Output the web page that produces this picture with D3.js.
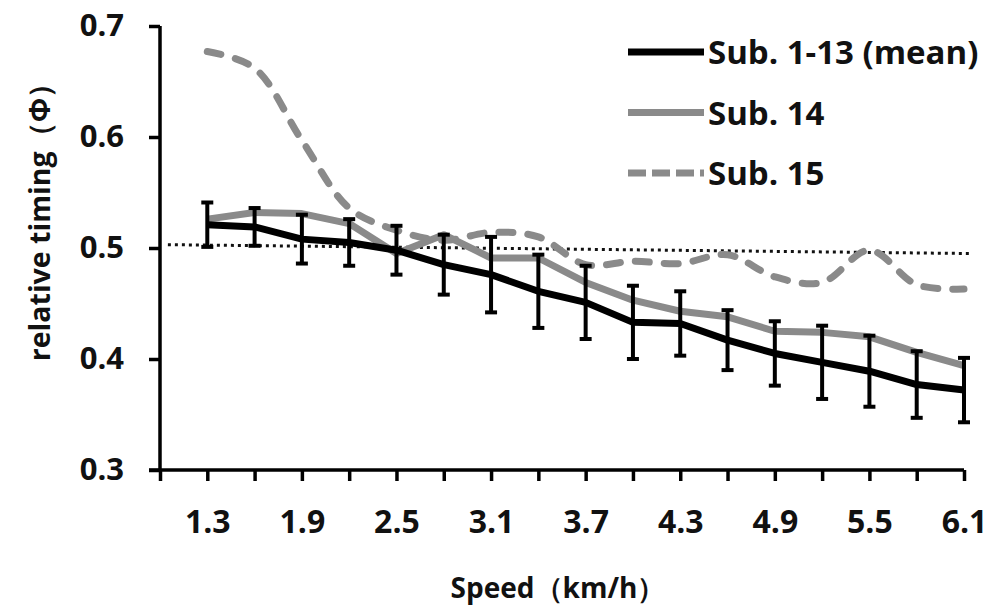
<!DOCTYPE html>
<html>
<head>
<meta charset="utf-8">
<script src="https://cdn.jsdelivr.net/npm/d3@7"></script>
<style>
  body { margin: 0; background: #fff; }
  svg { display: block; }
  text { font-family: "Open Sans", Lato, sans-serif; font-weight: bold; fill: #111; }
</style>
</head>
<body>
<div id="viz"></div>
<script>
"use strict";

// speeds (km/h)
var speeds = [1.3, 1.6, 1.9, 2.2, 2.5, 2.8, 3.1, 3.4, 3.7, 4.0, 4.3, 4.6, 4.9, 5.2, 5.5, 5.8, 6.1];
var speedLabels = ["1.3", "1.9", "2.5", "3.1", "3.7", "4.3", "4.9", "5.5", "6.1"];
var speedTicks = [1.0, 1.3, 1.6, 1.9, 2.2, 2.5, 2.8, 3.1, 3.4, 3.7, 4.0, 4.3, 4.6, 4.9, 5.2, 5.5, 5.8, 6.1];

// Sub. 1-13 mean and SD
var meanVals = [0.521, 0.519, 0.508, 0.505, 0.498, 0.485, 0.476, 0.461, 0.451, 0.433, 0.432, 0.417, 0.405, 0.397, 0.389, 0.377, 0.372];
var meanSD   = [0.020, 0.017, 0.022, 0.021, 0.022, 0.027, 0.034, 0.033, 0.033, 0.033, 0.029, 0.027, 0.029, 0.033, 0.032, 0.030, 0.029];

// Sub. 14, Sub. 15
var sub14 = [0.526, 0.532, 0.531, 0.522, 0.495, 0.512, 0.491, 0.491, 0.469, 0.453, 0.443, 0.438, 0.425, 0.424, 0.420, 0.406, 0.394];
var sub15 = [0.677, 0.662, 0.597, 0.536, 0.516, 0.507, 0.514, 0.510, 0.485, 0.488, 0.486, 0.494, 0.474, 0.469, 0.498, 0.467, 0.463];

// dotted reference line (end points)
var refX = [1.05, 6.15];
var refY = [0.503, 0.495];

var yTicks = [0.3, 0.4, 0.5, 0.6, 0.7];

var width = 995, height = 607;
var plotLeft = 160, plotRight = 964, plotTop = 26, plotBottom = 470;

var svg = d3.select("#viz").append("svg")
	.attr("width", width)
	.attr("height", height);

var x = d3.scaleLinear().domain([1.0, 6.1]).range([plotLeft, plotRight]);
var y = d3.scaleLinear().domain([0.3, 0.7]).range([plotBottom, plotTop]);

// axes
var yAxis = d3.axisLeft(y).tickValues(yTicks).tickSize(11).tickPadding(25)
	.tickFormat(d3.format(".1f"));
var gy = svg.append("g").attr("transform", "translate(" + plotLeft + ",0)").call(yAxis);
gy.select(".domain").attr("stroke", "#000").attr("stroke-width", 3.5).attr("d", "M0," + plotTop + "V" + plotBottom);
gy.selectAll(".tick line").attr("stroke", "#000").attr("stroke-width", 3.5);
gy.selectAll(".tick text").attr("font-size", "31px").attr("font-family", "'Open Sans', sans-serif")
	.attr("font-weight", "bold").attr("fill", "#111");

var xAxis = d3.axisBottom(x).tickValues(speedTicks).tickSize(11).tickPadding(29)
	.tickFormat(function(d) {
		var s = d3.format(".1f")(d);
		return speedLabels.indexOf(s) >= 0 ? s : "";
	});
var gx = svg.append("g").attr("transform", "translate(0," + plotBottom + ")").call(xAxis);
gx.select(".domain").attr("stroke", "#000").attr("stroke-width", 3.5).attr("d", "M" + (plotLeft - 11) + ",0H" + plotRight);
gx.selectAll(".tick line").attr("stroke", "#000").attr("stroke-width", 3.5);
gx.selectAll(".tick text").attr("font-size", "32px").attr("font-family", "'Open Sans', sans-serif")
	.attr("font-weight", "bold").attr("fill", "#111");

// axis titles
svg.append("text")
	.attr("transform", "translate(50,215) rotate(-90)")
	.attr("text-anchor", "middle")
	.attr("font-size", "28.5px")
	.text("relative timing（Φ）");

svg.append("text")
	.attr("x", 558).attr("y", 598)
	.attr("text-anchor", "middle")
	.attr("font-size", "28px")
	.text("Speed（km/h）");

// dotted line
svg.append("line")
	.attr("x1", x(refX[0])).attr("y1", y(refY[0]))
	.attr("x2", x(refX[1])).attr("y2", y(refY[1]))
	.attr("stroke", "#111").attr("stroke-width", 3)
	.attr("stroke-dasharray", "3,4");

var line = d3.line()
	.x(function(d, i) { return x(speeds[i]) })
	.y(function(d) { return y(d) });

// Sub. 15 (dashed, smoothed)
svg.append("path")
	.attr("d", line.curve(d3.curveCatmullRom)(sub15))
	.attr("fill", "none")
	.attr("stroke", "#8a8a8a")
	.attr("stroke-width", 7)
	.attr("stroke-linecap", "round")
	.attr("stroke-dasharray", "14,15");

// Sub. 14
svg.append("path")
	.attr("d", line.curve(d3.curveLinear)(sub14))
	.attr("fill", "none")
	.attr("stroke", "#8a8a8a")
	.attr("stroke-width", 7)
	.attr("stroke-linejoin", "round");

// error bars
var eb = svg.append("g").selectAll("g")
	.data(meanVals)
	.enter().append("g");
eb.append("line")
	.attr("x1", function(d, i) { return x(speeds[i]) })
	.attr("x2", function(d, i) { return x(speeds[i]) })
	.attr("y1", function(d, i) { return y(d + meanSD[i]) })
	.attr("y2", function(d, i) { return y(d - meanSD[i]) })
	.attr("stroke", "#000").attr("stroke-width", 4);
[1, -1].forEach(function(s) {
	eb.append("line")
		.attr("x1", function(d, i) { return x(speeds[i]) - 6 })
		.attr("x2", function(d, i) { return x(speeds[i]) + 6 })
		.attr("y1", function(d, i) { return y(d + s * meanSD[i]) })
		.attr("y2", function(d, i) { return y(d + s * meanSD[i]) })
		.attr("stroke", "#000").attr("stroke-width", 4);
});

// mean line
svg.append("path")
	.attr("d", line.curve(d3.curveLinear)(meanVals))
	.attr("fill", "none")
	.attr("stroke", "#000")
	.attr("stroke-width", 7)
	.attr("stroke-linejoin", "round");

// legend
var legendItems = [
	{ name: "Sub. 1-13 (mean)", color: "#000", dash: null },
	{ name: "Sub. 14", color: "#8a8a8a", dash: null },
	{ name: "Sub. 15", color: "#8a8a8a", dash: "18,6" }
];
var lg = svg.append("g").selectAll("g")
	.data(legendItems)
	.enter().append("g")
	.attr("transform", function(d, i) { return "translate(628," + (52 + i * 60.5) + ")" });
lg.append("line")
	.attr("x1", 0).attr("x2", 76)
	.attr("stroke", function(d) { return d.color })
	.attr("stroke-width", 7)
	.attr("stroke-dasharray", function(d) { return d.dash });
lg.append("text")
	.attr("x", 80).attr("y", 12)
	.attr("font-size", "33px")
	.text(function(d) { return d.name });
</script>
</body>
</html>
